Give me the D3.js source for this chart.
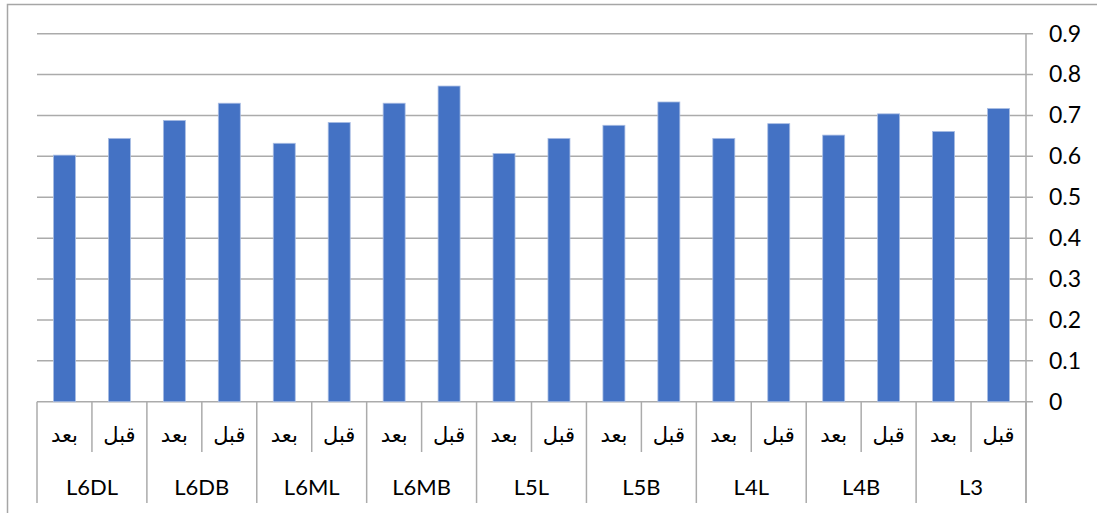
<!DOCTYPE html>
<html>
<head>
<meta charset="utf-8">
<script src="https://cdn.jsdelivr.net/npm/d3@7"></script>
<style>
  html, body { margin: 0; padding: 0; background: #fff; }
  svg { display: block; }
</style>
</head>
<body>
<svg id="chart" width="1097" height="513"></svg>
<script>
// Measured groups, each with an "after" (بعد) and "before" (قبل) value
const groups = ["L6DL", "L6DB", "L6ML", "L6MB", "L5L", "L5B", "L4L", "L4B", "L3"];
const phases = ["بعد", "قبل"];
const afterValues  = [0.603, 0.688, 0.632, 0.730, 0.607, 0.676, 0.644, 0.652, 0.661];
const beforeValues = [0.644, 0.730, 0.683, 0.772, 0.644, 0.733, 0.680, 0.704, 0.717];
const yTicks = [0, 0.1, 0.2, 0.3, 0.4, 0.5, 0.6, 0.7, 0.8, 0.9];

const rows = [];
groups.forEach((g, i) => {
  rows.push({ group: g, phase: phases[0], value: afterValues[i], key: g + "|" + phases[0] });
  rows.push({ group: g, phase: phases[1], value: beforeValues[i], key: g + "|" + phases[1] });
});

const svg = d3.select("#chart");
const plot = { left: 37, right: 1026, top: 33.7, bottom: 401.7 };
const axisFont = "Lato, 'Liberation Sans', Arial, sans-serif";

// Outer chart frame
svg.append("rect")
  .attr("x", 7.5).attr("y", 4.5)
  .attr("width", 1120).attr("height", 540)
  .attr("fill", "none").attr("stroke", "#a6a6a6").attr("stroke-width", 1.5);

const x = d3.scaleBand()
  .domain(rows.map(d => d.key))
  .range([plot.left, plot.right])
  .padding(0);

const y = d3.scaleLinear()
  .domain([0, 0.9])
  .range([plot.bottom, plot.top]);

// Horizontal gridlines (extend past the axis as tick marks)
svg.append("g").selectAll("line")
  .data(yTicks)
  .join("line")
  .attr("x1", plot.left).attr("x2", plot.right + 7)
  .attr("y1", d => y(d)).attr("y2", d => y(d))
  .attr("stroke", "#ababab").attr("stroke-width", 1.5);

// Bars
const barW = x.bandwidth() * 0.4;
svg.append("g").selectAll("rect")
  .data(rows)
  .join("rect")
  .attr("x", d => x(d.key) + (x.bandwidth() - barW) / 2)
  .attr("y", d => y(d.value))
  .attr("width", barW)
  .attr("height", d => y(0) - y(d.value))
  .attr("fill", "#4472c4")
  .attr("stroke", "#a9bde3")
  .attr("stroke-width", 0.8);

// Right value axis
const yAxis = d3.axisRight(y)
  .tickValues(yTicks)
  .tickSize(0)
  .tickPadding(23)
  .tickFormat(d => d3.format("~g")(d));
const yg = svg.append("g")
  .attr("transform", `translate(${plot.right},0)`)
  .call(yAxis);
yg.select(".domain").remove();
yg.selectAll("text")
  .attr("font-family", axisFont)
  .attr("font-size", 23)
  .attr("fill", "#000");

svg.append("line")
  .attr("x1", plot.right).attr("x2", plot.right)
  .attr("y1", plot.top).attr("y2", 503)
  .attr("stroke", "#ababab").attr("stroke-width", 1.5);

// Category axis: baseline, separators and two label rows
const sepMinor = 452, sepMajor = 503;
const boundaries = d3.range(rows.length + 1);
svg.append("g").selectAll("line")
  .data(boundaries)
  .join("line")
  .attr("x1", i => plot.left + i * x.step())
  .attr("x2", i => plot.left + i * x.step())
  .attr("y1", plot.bottom)
  .attr("y2", i => (i % 2 === 0 ? sepMajor : sepMinor))
  .attr("stroke", "#ababab").attr("stroke-width", 1.5);

svg.append("g").selectAll("text")
  .data(rows)
  .join("text")
  .attr("x", d => x(d.key) + x.bandwidth() / 2)
  .attr("y", 436)
  .attr("text-anchor", "middle")
  .attr("dominant-baseline", "middle")
  .attr("font-family", "'DejaVu Sans', sans-serif")
  .attr("font-size", 21)
  .attr("fill", "#000")
  .text(d => d.phase);

svg.append("g").selectAll("text")
  .data(groups)
  .join("text")
  .attr("x", g => x(g + "|" + phases[0]) + x.bandwidth())
  .attr("y", 489)
  .attr("text-anchor", "middle")
  .attr("dominant-baseline", "middle")
  .attr("font-family", axisFont)
  .attr("font-size", 22)
  .attr("fill", "#000")
  .text(g => g);
</script>
</body>
</html>
